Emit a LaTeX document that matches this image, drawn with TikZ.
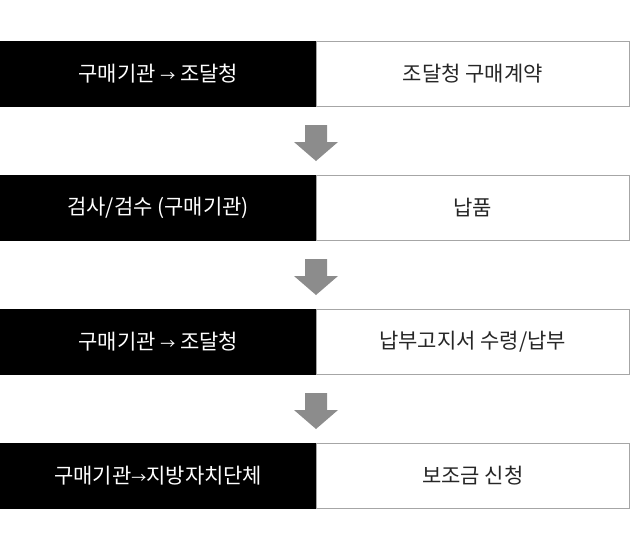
\documentclass[tikz,border=0pt]{standalone}
\usepackage{fontspec}
\newfontfamily\kr{Noto Sans CJK KR}
\begin{document}
\begin{tikzpicture}[x=1pt,y=-1pt,
  blk/.style={fill=black,draw=black,minimum width=316pt,minimum height=65pt,anchor=north west,inner sep=0pt,text=white,font=\kr\fontsize{21}{24}\selectfont},
  wht/.style={fill=white,draw=black!35,minimum width=313pt,minimum height=65pt,anchor=north west,inner sep=0pt,text=black!85,font=\kr\fontsize{21}{24}\selectfont},
  arr/.style={fill=black!45,draw=none}]
\useasboundingbox (0,0) rectangle (630,549);
\node[blk] (b1) at (0,41) {구매기관 {\fontsize{15}{18}\selectfont→} 조달청};
\node[wht] (w1) at (316,41) {조달청 구매계약};
\node[blk] (b2) at (0,175) {검사/검수 (구매기관)};
\node[wht] (w2) at (316,175) {납품};
\node[blk] (b3) at (0,309) {구매기관 {\fontsize{15}{18}\selectfont→} 조달청};
\node[wht] (w3) at (316,309) {납부고지서 수령/납부};
\node[blk] (b4) at (0,443) {구매기관{\fontsize{15}{18}\selectfont→}지방자치단체};
\node[wht] (w4) at (316,443) {보조금 신청};
\foreach \y in {125,259,393}{
  \fill[arr] (305,\y) -- (327,\y) -- (327,\y+17) -- (338,\y+17) -- (316,\y+36) -- (294,\y+17) -- (305,\y+17) -- cycle;
}
\end{tikzpicture}
\end{document}
